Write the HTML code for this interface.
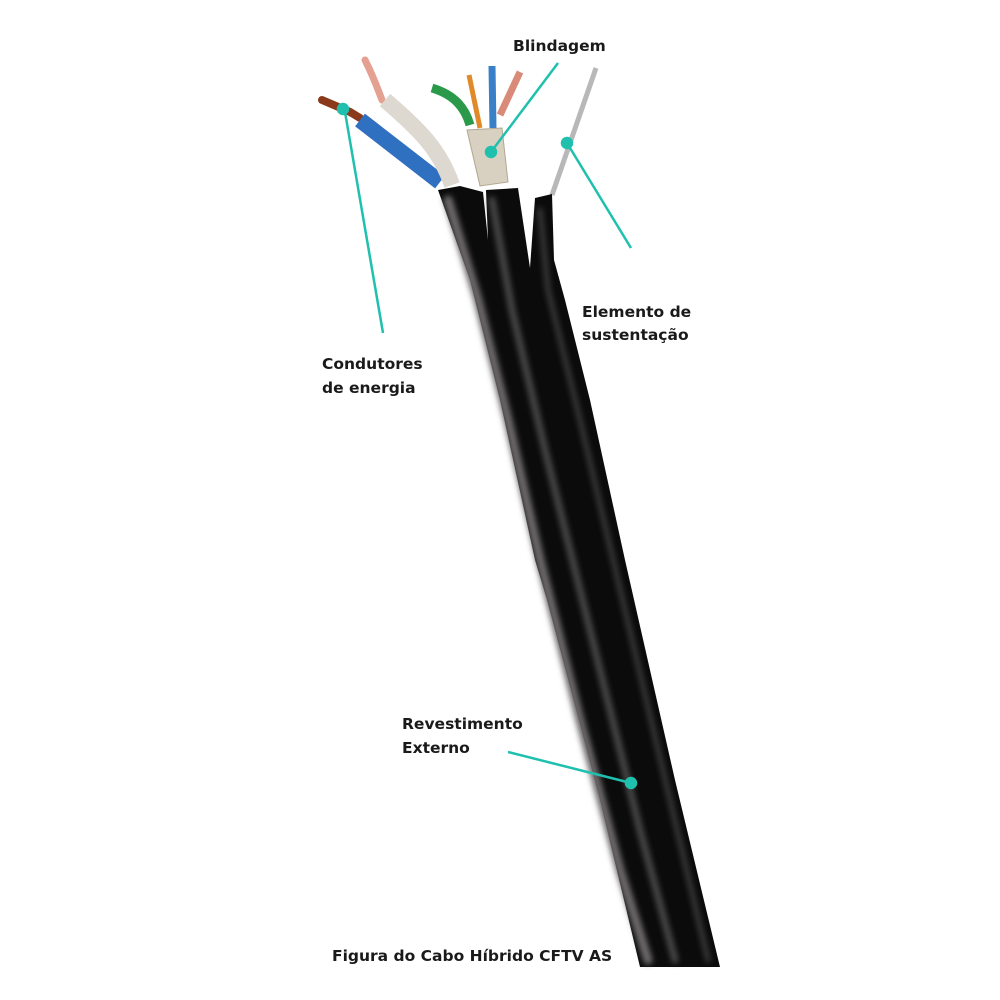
<!DOCTYPE html>
<html><head><meta charset="utf-8"><style>
html,body{margin:0;padding:0;background:#fff;}
svg{display:block}
text{font-family:"DejaVu Sans","Liberation Sans",sans-serif;font-weight:bold;font-size:15.5px;fill:#1a1a1a}
</style></head><body>
<svg width="1000" height="1000" viewBox="0 0 1000 1000" xmlns="http://www.w3.org/2000/svg">
<defs>
<filter id="b" x="-20%" y="-20%" width="140%" height="140%"><feGaussianBlur stdDeviation="3"/></filter>
</defs>
<!-- conductors -->
<path d="M322 100 L350 112 L360 118" stroke="#8a3a1a" stroke-width="8" fill="none" stroke-linecap="round"/>
<path d="M360 120 L440 182" stroke="#2f70c0" stroke-width="16" fill="none"/>
<path d="M365 60 C375 80 378 90 382 100" stroke="#e4a090" stroke-width="7" fill="none" stroke-linecap="round"/>
<path d="M385 100 C420 130 440 150 452 185" stroke="#ddd8d0" stroke-width="16" fill="none"/>
<!-- pairs -->
<path d="M432 88 C455 95 465 108 470 125" stroke="#2a9a4a" stroke-width="9" fill="none"/>
<path d="M469 75 L480 128" stroke="#e08a2a" stroke-width="5" fill="none"/>
<path d="M492 66 L493 128" stroke="#3a80c8" stroke-width="7" fill="none"/>
<path d="M520 72 L500 115" stroke="#d98a78" stroke-width="7" fill="none"/>
<path d="M467 130 L502 128 L508 182 L480 186 Z" fill="#d8d0c0" stroke="#b0a890"/>
<!-- support wire -->
<path d="M596 68 L552 195" stroke="#b8b8b8" stroke-width="5" fill="none"/>
<!-- cable body -->
<path d="M438 190 L460 186 L483 192 L488 240 L486 190 L518 188 L530 268 L535 198 L552 194 L554 260 L565 300 L590 400 L625 560 L675 780 L720 967 L640 967 L600 800 L547 600 L535 560 L500 400 L470 280 Z" fill="#0b0b0b"/>
<g filter="url(#b)" fill="none" stroke-linecap="round">
<path d="M448 200 L478 300 L508 420 L540 560 L580 720 L620 870 L648 960" stroke="#6e6a6c" stroke-width="9"/>
<path d="M492 200 L512 310 L545 450 L590 630 L640 830 L675 960" stroke="#4a4648" stroke-width="7"/>
<path d="M540 210 L548 290 L580 420 L625 610 L670 800 L708 960" stroke="#3e3a3c" stroke-width="5"/>
</g>
<path d="M486 195 L490 245" stroke="#fff" stroke-width="0" />
<!-- leader lines -->
<g stroke="#1fc0ad" stroke-width="2.5" fill="#1fc0ad">
<line x1="345" y1="112" x2="383" y2="333"/><circle cx="343" cy="109" r="5"/>
<line x1="491" y1="152" x2="558" y2="63"/><circle cx="491" cy="152" r="5"/>
<line x1="567" y1="143" x2="631" y2="248"/><circle cx="567" cy="143" r="5"/>
<line x1="631" y1="783" x2="508" y2="752"/><circle cx="631" cy="783" r="5"/>
</g>
<text x="513" y="51">Blindagem</text>
<text x="322" y="369">Condutores</text>
<text x="322" y="393">de energia</text>
<text x="582" y="317">Elemento de</text>
<text x="582" y="340">sustentação</text>
<text x="402" y="729">Revestimento</text>
<text x="402" y="753">Externo</text>
<text x="332" y="961">Figura do Cabo Híbrido CFTV AS</text>
</svg>
</body></html>
